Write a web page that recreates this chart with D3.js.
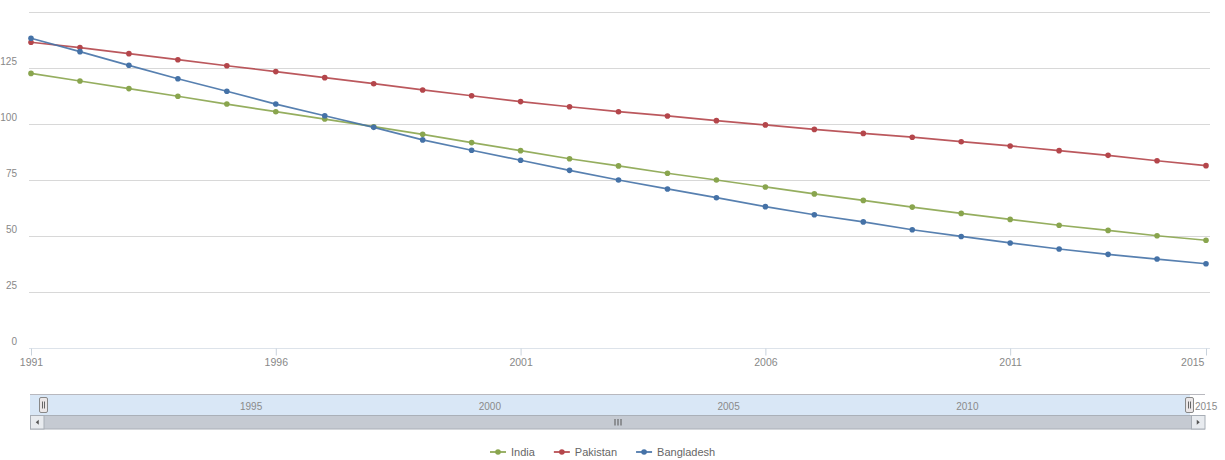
<!DOCTYPE html>
<html>
<head>
<meta charset="utf-8">
<script src="https://cdn.jsdelivr.net/npm/d3@7/dist/d3.min.js"></script>
<style>
  html, body { margin: 0; padding: 0; background: #fff; }
  svg { display: block; font-family: "Liberation Sans", Arial, Helvetica, sans-serif; }
</style>
</head>
<body>
<svg id="chart" width="1225" height="460"></svg>
<script>
// Under-five mortality, 1991–2015
const years = [1991, 1992, 1993, 1994, 1995, 1996, 1997, 1998, 1999, 2000, 2001, 2002, 2003,
               2004, 2005, 2006, 2007, 2008, 2009, 2010, 2011, 2012, 2013, 2014, 2015];
const india = [122.6, 119.2, 115.8, 112.4, 108.9, 105.5, 102.2, 98.8, 95.4, 91.7, 88.1, 84.5, 81.3,
               78.0, 75.0, 71.9, 68.8, 65.9, 62.9, 60.1, 57.4, 54.8, 52.5, 50.1, 48.1];
const pakistan = [136.5, 134.1, 131.4, 128.7, 126.0, 123.4, 120.7, 118.0, 115.2, 112.6, 110.0, 107.7, 105.5,
                  103.6, 101.5, 99.6, 97.6, 95.8, 94.1, 92.1, 90.2, 88.1, 86.0, 83.6, 81.4];
const bangladesh = [138.3, 132.3, 126.2, 120.2, 114.6, 108.9, 103.7, 98.5, 92.9, 88.3, 83.8, 79.3, 75.0,
                    71.0, 67.1, 63.1, 59.5, 56.3, 52.8, 49.8, 46.9, 44.2, 41.8, 39.7, 37.6];
const seriesNames = ["India", "Pakistan", "Bangladesh"];
const seriesColors = ["#89A54E", "#B4464B", "#4572A7"];
const yTickValues = [0, 25, 50, 75, 100, 125, 150];
const xTickYears = [1991, 1996, 2001, 2006, 2011, 2015];
const navTickYears = [1995, 2000, 2005, 2010, 2015];

const seriesValues = [india, pakistan, bangladesh];
const series = seriesNames.map((name, i) => ({
  name,
  color: seriesColors[i],
  points: years.map((yr, j) => ({ year: yr, value: seriesValues[i][j] }))
}));

const svg = d3.select("#chart");

// ---- main plot ----
const plot = { left: 31, right: 1206, top: 12, bottom: 348 };
const x = d3.scaleLinear().domain([1991, 2015]).range([plot.left, plot.right]);
const y = d3.scaleLinear().domain([0, 150]).range([plot.bottom, plot.top]);

// horizontal grid
const grid = svg.append("g").attr("class", "grid");
grid.selectAll("line").data(yTickValues).join("line")
  .attr("x1", plot.left - 2).attr("x2", plot.right + 4)
  .attr("y1", d => Math.round(y(d)) + 0.5).attr("y2", d => Math.round(y(d)) + 0.5)
  .attr("stroke", "#d8d8d8").attr("stroke-width", 1);

// y labels (top line unlabelled)
svg.append("g").selectAll("text").data(yTickValues.filter(v => v < 150)).join("text")
  .attr("x", 17).attr("y", d => y(d) - 3.5)
  .attr("text-anchor", "end")
  .attr("font-size", "10px").attr("fill", "#888")
  .text(d => d);

// x axis
const xAxis = d3.axisBottom(x).tickValues(xTickYears).tickFormat(d3.format("d")).tickSize(7).tickPadding(3);
const gx = svg.append("g").attr("transform", `translate(0,${plot.bottom + 0.5})`).call(xAxis);
gx.select(".domain").attr("stroke", "#dde3ea").attr("d", `M${plot.left - 2},0H${plot.right + 4}`);
gx.selectAll(".tick line").attr("stroke", "#c8d2dc");
gx.selectAll(".tick text").attr("fill", "#888").attr("font-size", "10.5px")
  .attr("font-family", "\"Liberation Sans\", Arial, sans-serif");
gx.selectAll(".tick text").filter(d => d === 2015).attr("text-anchor", "end").attr("dx", "-0.2em");

// series lines and markers
const line = d3.line().x(d => x(d.year)).y(d => y(d.value));
const gs = svg.append("g").attr("class", "series");
series.forEach(s => {
  gs.append("path").datum(s.points)
    .attr("d", line).attr("fill", "none")
    .attr("stroke", s.color).attr("stroke-width", 1.7).attr("stroke-opacity", 0.9)
    .attr("stroke-linejoin", "round").attr("stroke-linecap", "round");
});
series.forEach(s => {
  gs.append("g").selectAll("circle").data(s.points).join("circle")
    .attr("cx", d => x(d.year)).attr("cy", d => y(d.value)).attr("r", 2.8)
    .attr("fill", s.color);
});

// ---- navigator ----
const nav = { left: 30, right: 1205, top: 394.5, bottom: 415, handleL: 44, handleR: 1190 };
const xn = d3.scaleLinear().domain([1991, 2015]).range([nav.handleL, nav.handleR]);
const gn = svg.append("g").attr("class", "navigator");

gn.append("rect")
  .attr("x", nav.left).attr("y", nav.top)
  .attr("width", nav.handleR - nav.left).attr("height", nav.bottom - nav.top)
  .attr("fill", "#d9e7f6");
gn.append("line")
  .attr("x1", nav.left).attr("x2", nav.right)
  .attr("y1", nav.top).attr("y2", nav.top)
  .attr("stroke", "#b8b8be").attr("stroke-width", 1);

gn.selectAll("text.navlabel").data(navTickYears).join("text")
  .attr("class", "navlabel")
  .attr("x", d => xn(d) + 5).attr("y", 409.5)
  .attr("font-size", "10px").attr("fill", "#8a8a8a")
  .text(d => d);

// handles
[nav.handleL, nav.handleR].forEach(hx => {
  const h = gn.append("g").attr("transform", `translate(${hx},0)`);
  h.append("rect").attr("x", -4.5).attr("y", 397.5).attr("width", 8).attr("height", 15)
    .attr("rx", 1.5).attr("fill", "#ebe7e8").attr("stroke", "#888").attr("stroke-width", 1);
  h.append("path").attr("d", "M-1.5,401.5V408.5M0.5,401.5V408.5")
    .attr("stroke", "#666").attr("stroke-width", 1);
});

// scrollbar
const sb = { top: 415, height: 14.5 };
gn.append("rect")
  .attr("x", nav.left + 0.5).attr("y", sb.top + 0.5)
  .attr("width", nav.right - nav.left - 1).attr("height", sb.height - 1)
  .attr("fill", "#c5cad2").attr("stroke", "#aab0b8").attr("stroke-width", 1);
// buttons
[[nav.left, 1], [nav.right - 14, -1]].forEach(([bx, dir]) => {
  const b = gn.append("g").attr("transform", `translate(${bx},${sb.top})`);
  b.append("rect").attr("x", 0.5).attr("y", 0.5).attr("width", 13.5).attr("height", sb.height - 1)
    .attr("fill", "#e8ebef").attr("stroke", "#a8aeb6");
  const cx = 7.25, cy = sb.height / 2;
  b.append("path")
    .attr("d", dir > 0
      ? `M${cx + 1.5},${cy - 2.5}L${cx - 1.5},${cy}L${cx + 1.5},${cy + 2.5}Z`
      : `M${cx - 1.5},${cy - 2.5}L${cx + 1.5},${cy}L${cx - 1.5},${cy + 2.5}Z`)
    .attr("fill", "#555");
});
// grip
const gripX = (nav.left + 14 + nav.right - 14) / 2;
gn.append("path")
  .attr("d", `M${gripX - 2.5},${sb.top + 4}V${sb.top + 10.5}M${gripX + 0.5},${sb.top + 4}V${sb.top + 10.5}M${gripX + 3.5},${sb.top + 4}V${sb.top + 10.5}`)
  .attr("stroke", "#555").attr("stroke-width", 1);

// ---- legend ----
const legend = svg.append("g").attr("class", "legend");
const legendY = 452;
let lx = 490;
series.forEach(s => {
  const item = legend.append("g").attr("transform", `translate(${lx},${legendY})`);
  item.append("line").attr("x1", 0).attr("x2", 16).attr("y1", 0).attr("y2", 0)
    .attr("stroke", s.color).attr("stroke-width", 1.7);
  item.append("circle").attr("cx", 8).attr("cy", 0).attr("r", 2.8).attr("fill", s.color);
  const t = item.append("text").attr("x", 21).attr("y", 4)
    .attr("font-size", "11px").attr("fill", "#666").text(s.name);
  lx += 21 + t.node().getComputedTextLength() + 19;
});
</script>
</body>
</html>
